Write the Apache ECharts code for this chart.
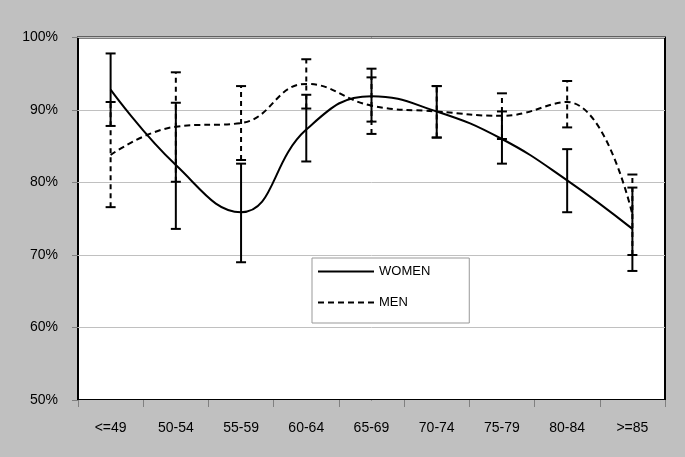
<!DOCTYPE html>
<html>
<head>
<meta charset="utf-8">
<script src="https://cdn.jsdelivr.net/npm/echarts@6/dist/echarts.min.js"></script>
<style>
html,body{margin:0;padding:0;background:#c0c0c0;}
#c{width:685px;height:457px;}
</style>
</head>
<body>
<div id="c"></div>
<script>
const categories = ['<=49','50-54','55-59','60-64','65-69','70-74','75-79','80-84','>=85'];
const women     = [92.8, 82.4, 75.9, 87.3, 91.9, 89.8, 86.0, 80.3, 73.6];
const womenLow  = [87.8, 73.6, 69.0, 82.9, 88.4, 86.2, 82.6, 75.9, 67.8];
const womenHigh = [97.8, 91.0, 82.6, 92.1, 95.7, 93.3, 89.8, 84.6, 79.3];
const men       = [83.8, 87.7, 88.2, 93.6, 90.6, 89.8, 89.2, 91.1, 75.6];
const menLow    = [76.6, 80.1, 83.1, 90.2, 86.7, 86.2, 86.0, 87.6, 70.0];
const menHigh   = [91.1, 95.2, 93.3, 97.0, 94.5, 93.3, 92.3, 94.0, 81.1];
const yTicks = [50, 60, 70, 80, 90, 100];

function errData(lo, hi){ return lo.map((v,i)=>[i, v, hi[i]]); }
function errRender(dashed){
  return function(params, api){
    const i = api.value(0);
    const lo = api.coord([i, api.value(1)]);
    const hi = api.coord([i, api.value(2)]);
    const hw = 5;
    const style = {stroke:'#000', lineWidth: 2, lineDash: dashed ? [5,4] : null, fill:null};
    const capStyle = {stroke:'#000', lineWidth: 2, fill:null};
    return {type:'group', children:[
      {type:'line', shape:{x1:lo[0],y1:lo[1],x2:hi[0],y2:hi[1]}, style: style},
      {type:'line', shape:{x1:lo[0]-hw,y1:lo[1],x2:lo[0]+hw,y2:lo[1]}, style: capStyle},
      {type:'line', shape:{x1:hi[0]-hw,y1:hi[1],x2:hi[0]+hw,y2:hi[1]}, style: capStyle}
    ]};
  };
}

const chart = echarts.init(document.getElementById('c'));
chart.setOption({
  animation:false,
  backgroundColor:'#c0c0c0',
  textStyle:{fontFamily:'Liberation Sans, Arial, sans-serif'},
  grid:{left:78, right:20, top:37.5, bottom:57, show:true, backgroundColor:'#fff', borderColor:'#000', borderWidth:2},
  legend:{
    data:['WOMEN','MEN'], orient:'vertical', left:312, top:258,
    itemWidth:56, itemHeight:14, itemGap:18, padding:[7,39,14,5],
    borderColor:'#999', borderWidth:1, backgroundColor:'#fff', borderRadius:0,
    itemStyle:{opacity:0},
    textStyle:{fontSize:13, color:'#000', fontFamily:'Liberation Sans, Arial, sans-serif'}
  },
  xAxis:{
    type:'category', data:categories, boundaryGap:true,
    axisLine:{show:false},
    axisTick:{show:true, length:7, lineStyle:{color:'#808080'}},
    axisLabel:{fontSize:14, color:'#000', margin:21},
    splitLine:{show:false}
  },
  yAxis:{
    type:'value', min:yTicks[0], max:yTicks[yTicks.length-1], interval:10,
    axisLine:{show:false},
    axisTick:{show:true, length:6, lineStyle:{color:'#808080'}},
    axisLabel:{fontSize:14, color:'#000', margin:20, formatter:'{value}%'},
    splitLine:{show:true, lineStyle:{color:'#c0c0c0', width:1}}
  },
  series:[
    {name:'MENerr', type:'custom', renderItem:errRender(true), data:errData(menLow, menHigh), z:3},
    {name:'WOMENerr', type:'custom', renderItem:errRender(false), data:errData(womenLow, womenHigh), z:4},
    {name:'WOMEN', type:'line', data:women, smooth:0.45, symbol:'none', lineStyle:{color:'#000', width:2}, itemStyle:{color:'#000'}, z:5},
    {name:'MEN', type:'line', data:men, smooth:0.45, symbol:'none', lineStyle:{color:'#000', width:2, type:[6,4]}, itemStyle:{color:'#000'}, z:5}
  ]
});
</script>
</body>
</html>
